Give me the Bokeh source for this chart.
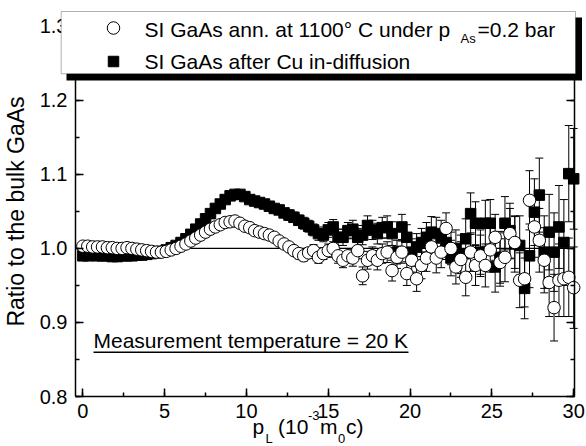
from bokeh.plotting import figure
from bokeh.models import (Range1d, LinearAxis, SingleIntervalTicker, PrintfTickFormatter,
                          CustomJSTickFormatter, Label, BoxAnnotation, Whisker,
                          ColumnDataSource, TeeHead)
from bokeh.embed import file_html
from bokeh.resources import INLINE

# ---------------- data ----------------
p_l = [0.0, 0.3, 0.6, 0.9, 1.2, 1.5, 1.8, 2.1, 2.4, 2.7,
       3.0, 3.3, 3.6, 3.9, 4.2, 4.5, 4.8, 5.1, 5.4, 5.7,
       6.0, 6.3, 6.6, 6.9, 7.2, 7.5, 7.8, 8.1, 8.4, 8.7,
       9.0, 9.3, 9.6, 9.9, 10.2, 10.5, 10.8, 11.1, 11.4, 11.7,
       12.0, 12.3, 12.6, 12.9, 13.2, 13.5, 13.8, 14.1, 14.4, 14.7,
       15.0, 15.3, 15.6, 15.9, 16.2, 16.5, 16.8, 17.1, 17.4, 17.7,
       18.0, 18.3, 18.6, 18.9, 19.2, 19.5, 19.8, 20.1, 20.4, 20.7,
       21.0, 21.3, 21.6, 21.9, 22.2, 22.5, 22.8, 23.1, 23.4, 23.7,
       24.0, 24.3, 24.6, 24.9, 25.2, 25.5, 25.8, 26.1, 26.4, 26.7,
       27.0, 27.3, 27.6, 27.9, 28.2, 28.5, 28.8, 29.1, 29.4, 29.7,
       30.0]

ratio_ann = [1.003, 1.003, 1.002, 1.002, 1.002, 1.001, 1.001, 1.000, 1.000, 1.001,
             1.000, 0.999, 0.998, 0.997, 0.996, 0.995, 0.995, 0.996, 0.998, 1.000,
             1.003, 1.006, 1.010, 1.014, 1.018, 1.022, 1.026, 1.029, 1.032, 1.035,
             1.036, 1.037, 1.034, 1.030, 1.028, 1.024, 1.022, 1.020, 1.018, 1.015,
             1.010, 1.006, 1.002, 0.997, 0.993, 0.990, 0.994, 0.997, 0.988, 0.993,
             0.997, 1.000, 0.990, 0.984, 0.990, 0.987, 0.997, 0.963, 0.984, 0.990,
             0.984, 0.993, 0.995, 0.970, 0.988, 0.995, 0.966, 0.984, 0.959, 0.977,
             0.987, 1.002, 0.987, 0.995, 1.027, 1.000, 0.975, 0.985, 0.961, 0.995,
             0.977, 0.990, 0.977, 0.998, 1.015, 0.981, 0.988, 1.020, 1.008, 0.957,
             0.959, 1.065, 1.029, 1.011, 0.984, 0.954, 0.920, 0.957, 0.959, 0.961,
             0.947]

err_ann = [0.001, 0.001, 0.001, 0.001, 0.001, 0.001, 0.001, 0.001, 0.001, 0.001,
           0.001, 0.001, 0.001, 0.001, 0.001, 0.001, 0.001, 0.001, 0.001, 0.001,
           0.002, 0.002, 0.002, 0.002, 0.002, 0.002, 0.002, 0.002, 0.002, 0.002,
           0.003, 0.003, 0.003, 0.003, 0.004, 0.004, 0.004, 0.004, 0.005, 0.005,
           0.005, 0.006, 0.006, 0.006, 0.007, 0.007, 0.007, 0.008, 0.008, 0.008,
           0.009, 0.009, 0.010, 0.010, 0.010, 0.011, 0.011, 0.012, 0.012, 0.012,
           0.013, 0.013, 0.014, 0.014, 0.015, 0.015, 0.016, 0.016, 0.017, 0.018,
           0.018, 0.019, 0.020, 0.021, 0.021, 0.022, 0.023, 0.024, 0.025, 0.026,
           0.027, 0.028, 0.029, 0.030, 0.031, 0.032, 0.033, 0.034, 0.035, 0.037,
           0.038, 0.040, 0.041, 0.043, 0.044, 0.046, 0.045, 0.049, 0.051, 0.053,
           0.055]

ratio_cu = [0.990, 0.990, 0.991, 0.990, 0.990, 0.990, 0.989, 0.989, 0.990, 0.990,
            0.990, 0.991, 0.991, 0.992, 0.993, 0.994, 0.996, 0.998, 1.001, 1.004,
            1.008, 1.013, 1.019, 1.026, 1.033, 1.040, 1.047, 1.054, 1.060, 1.066,
            1.071, 1.073, 1.073, 1.070, 1.066, 1.064, 1.062, 1.060, 1.057, 1.054,
            1.052, 1.048, 1.045, 1.042, 1.038, 1.034, 1.030, 1.025, 1.020, 1.018,
            1.025, 1.029, 1.015, 1.015, 1.024, 1.026, 1.015, 1.018, 1.031, 1.025,
            1.020, 1.028, 1.029, 1.020, 0.995, 1.029, 1.015, 0.995, 1.002, 1.008,
            1.015, 1.022, 1.020, 1.015, 1.008, 0.987, 1.000, 0.992, 1.013, 1.047,
            1.034, 0.995, 1.034, 1.034, 0.975, 0.988, 1.034, 1.024, 1.006, 1.004,
            0.946, 0.990, 1.049, 1.072, 0.995, 1.022, 0.995, 1.029, 1.008, 1.101,
            1.094]

err_cu = [0.001, 0.001, 0.001, 0.001, 0.001, 0.001, 0.001, 0.001, 0.001, 0.001,
          0.001, 0.001, 0.001, 0.001, 0.001, 0.001, 0.001, 0.001, 0.001, 0.001,
          0.002, 0.002, 0.002, 0.002, 0.002, 0.002, 0.002, 0.002, 0.002, 0.002,
          0.003, 0.003, 0.003, 0.004, 0.004, 0.004, 0.005, 0.005, 0.005, 0.005,
          0.006, 0.006, 0.007, 0.007, 0.007, 0.008, 0.008, 0.008, 0.009, 0.009,
          0.010, 0.010, 0.011, 0.011, 0.011, 0.012, 0.012, 0.013, 0.013, 0.013,
          0.014, 0.014, 0.015, 0.016, 0.016, 0.017, 0.017, 0.018, 0.018, 0.019,
          0.020, 0.021, 0.022, 0.023, 0.023, 0.024, 0.025, 0.026, 0.027, 0.028,
          0.029, 0.030, 0.031, 0.032, 0.034, 0.035, 0.036, 0.037, 0.038, 0.040,
          0.041, 0.043, 0.045, 0.050, 0.049, 0.051, 0.053, 0.056, 0.058, 0.065,
          0.068]

x_ticks_interval = 5
y_ticks_interval = 0.1

# ---------------- layout ----------------
W, H = 586, 446
AL, AR, AT, AB = 75, 574, 11, 396          # pixel box used for the data mapping
X0, X1 = -0.45, 30.05                      # x limits of the axes box
Y0, Y1 = 0.8, 1.32                         # y values at AB / AT
Y_TOP = 1.3                                # top of the drawn axes
FONT = "Liberation Sans"

SX = (X1 - X0) / (AR - AL)
SY = (Y1 - Y0) / (AB - AT)


def px2x(px):
    return X0 + (px - AL) * SX


def py2y(py):
    return Y0 + (AB - py) * SY


# the frame covers the whole canvas so that nothing (legend overhang, axis title) is clipped;
# axes are pinned at the axes-box edges with fixed_location and bounds
p = figure(width=W, height=H,
           x_range=Range1d(px2x(0), px2x(W)), y_range=Range1d(py2y(H), py2y(0)),
           output_backend="svg", toolbar_location=None,
           min_border_left=0, min_border_right=0, min_border_top=0, min_border_bottom=0)
p.background_fill_color = "white"
p.border_fill_color = "white"
p.outline_line_color = None
p.grid.visible = False


def style_axis(ax):
    ax.axis_line_width = 1.5
    ax.axis_line_color = "black"
    ax.major_tick_in = 8
    ax.major_tick_out = 0
    ax.minor_tick_in = 4
    ax.minor_tick_out = 0
    ax.major_tick_line_width = 1.5
    ax.minor_tick_line_width = 1.5
    ax.major_tick_line_color = "black"
    ax.minor_tick_line_color = "black"
    ax.major_label_text_font = FONT
    ax.major_label_text_font_size = "20px"
    ax.major_label_text_color = "black"


xax = p.xaxis[0]
xax.ticker = SingleIntervalTicker(interval=x_ticks_interval, num_minor_ticks=2)
xax.fixed_location = Y0
xax.bounds = (X0, X1)
style_axis(xax)
xax.major_label_standoff = 7

yax = p.yaxis[0]
yax.ticker = SingleIntervalTicker(interval=y_ticks_interval, num_minor_ticks=2)
yax.formatter = PrintfTickFormatter(format="%.1f")
yax.fixed_location = X0
yax.bounds = (Y0, Y_TOP)
style_axis(yax)
yax.major_label_standoff = 8
yax.axis_label = "Ratio to the bulk GaAs"
yax.axis_label_text_font = FONT
yax.axis_label_text_font_size = "23px"
yax.axis_label_text_font_style = "normal"
yax.axis_label_text_color = "black"
yax.axis_label_standoff = 8

# mirrored right axis: ticks only
rax = LinearAxis(ticker=SingleIntervalTicker(interval=y_ticks_interval, num_minor_ticks=2),
                 formatter=CustomJSTickFormatter(code="return ''"),
                 fixed_location=X1, bounds=(Y0, Y_TOP))
style_axis(rax)
rax.major_label_standoff = 0
p.add_layout(rax, "right")

# top edge of the axes box (hidden behind the legend, as in the original)
tax = LinearAxis(ticker=SingleIntervalTicker(interval=x_ticks_interval, num_minor_ticks=2),
                 formatter=CustomJSTickFormatter(code="return ''"),
                 fixed_location=Y_TOP, bounds=(X0, X1))
style_axis(tax)
tax.major_label_standoff = 0
p.add_layout(tax, "above")

# reference line at ratio 1
p.segment(x0=[X0], y0=[1.0], x1=[X1], y1=[1.0], line_color="black", line_width=1.2,
          level="underlay")

# ---------------- data ----------------
src_cu = ColumnDataSource(dict(x=p_l, y=ratio_cu,
                               lo=[v - e for v, e in zip(ratio_cu, err_cu)],
                               hi=[v + e for v, e in zip(ratio_cu, err_cu)]))
src_ann = ColumnDataSource(dict(x=p_l, y=ratio_ann,
                                lo=[v - e for v, e in zip(ratio_ann, err_ann)],
                                hi=[v + e for v, e in zip(ratio_ann, err_ann)]))

for src in (src_cu, src_ann):
    p.add_layout(Whisker(source=src, base="x", lower="lo", upper="hi",
                         line_color="black", line_width=1,
                         upper_head=TeeHead(size=8, line_color="black", line_width=1),
                         lower_head=TeeHead(size=8, line_color="black", line_width=1)))

p.scatter("x", "y", source=src_cu, marker="square", size=10.5,
          fill_color="black", line_color="black", line_width=1)
p.scatter("x", "y", source=src_ann, marker="circle", size=12.5,
          fill_color="white", line_color="black", line_width=1)

# ---------------- legend box with drop shadow ----------------
p.add_layout(BoxAnnotation(left=px2x(66), right=px2x(581.5), top=py2y(17), bottom=py2y(80),
                           fill_color="black", fill_alpha=1.0, line_alpha=0.0))
p.add_layout(BoxAnnotation(left=px2x(60.7), right=px2x(575), top=py2y(11), bottom=py2y(73.3),
                           fill_color="white", fill_alpha=1.0, line_color="black",
                           line_width=1))

p.scatter([px2x(113)], [py2y(27.5)], marker="circle", size=12.5, fill_color="white",
          line_color="black", line_width=1, level="overlay")
p.scatter([px2x(113)], [py2y(61)], marker="square", size=10.5, fill_color="black",
          line_color="black", line_width=1, level="overlay")


def add_text(text, px, baseline_py, size=21):
    # Bokeh centres the text box on y; the baseline lies ~0.405 em below the centre
    p.add_layout(Label(x=px2x(px), y=py2y(baseline_py - 0.405 * size), text=text,
                       text_font=FONT, text_font_size=f"{size}px", text_color="black",
                       text_baseline="middle", text_align="left", level="overlay"))


add_text("SI GaAs ann. at 1100° C under p", 144, 38)
add_text("As", 460, 43.5, 13)
add_text("=0.2 bar", 477, 38)
add_text("SI GaAs after Cu in-diffusion", 144, 69.5)

# measurement temperature note (underlined)
add_text("Measurement temperature = 20 K", 93, 349)
p.add_layout(BoxAnnotation(left=px2x(93), right=px2x(408), top=py2y(351), bottom=py2y(352.5),
                           fill_color="black", fill_alpha=1.0, line_alpha=0.0))

# x-axis title  p_L (10^-3 m_0 c)
add_text("p", 252, 435)
add_text("L", 265, 443, 13)
add_text("(10", 277.5, 435)
add_text("-3", 307.5, 420, 13)
add_text("m", 319.5, 435)
add_text("0", 337.5, 443, 13)
add_text("c)", 345.5, 435)

open("out.html", "w").write(file_html(p, INLINE))
